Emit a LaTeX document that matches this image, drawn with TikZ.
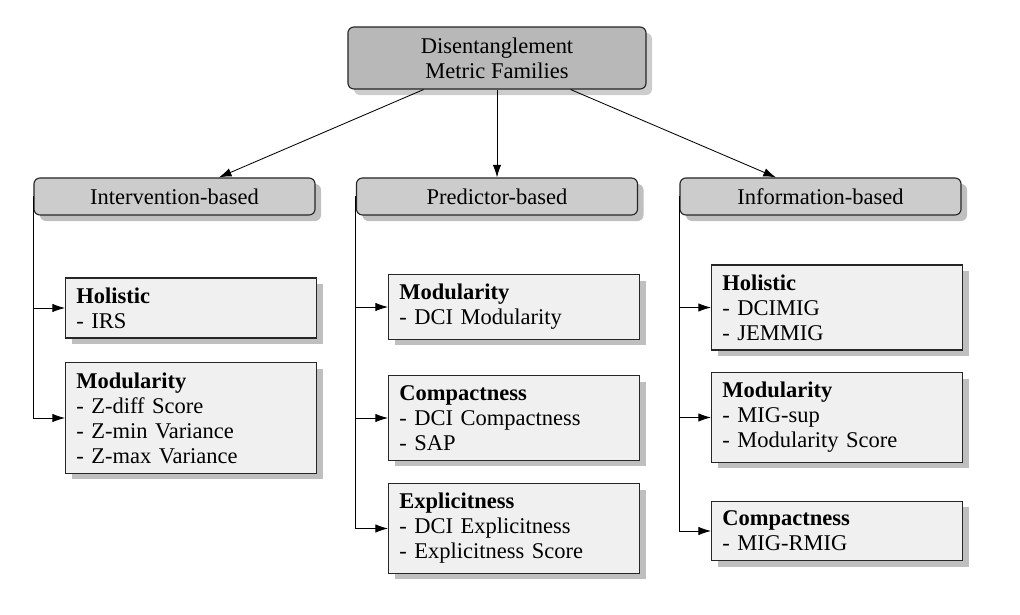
\documentclass[tikz,border=0pt]{standalone}
\usepackage{fontspec}
\setmainfont{Liberation Serif}
\usetikzlibrary{arrows.meta,shadows}

\tikzset{
    rootbox/.style={draw=black!85, thick, fill=black!28, rounded corners=0.15cm,
        minimum width=7.45cm, minimum height=1.55cm, align=center,
        drop shadow={shadow xshift=0.15cm, shadow yshift=-0.15cm, opacity=1, fill=black!20}},
    catbox/.style={draw=black!85, thick, fill=black!20, rounded corners=0.15cm,
        minimum width=7.025cm, minimum height=0.925cm,
        drop shadow={shadow xshift=0.15cm, shadow yshift=-0.15cm, opacity=1, fill=black!25}},
    leafbox/.style={draw=black!85, thick, fill=black!6, anchor=west, align=left,
        text width=5.735cm, inner xsep=0.27cm, inner ysep=0.24cm,
        drop shadow={shadow xshift=0.15cm, shadow yshift=-0.15cm, opacity=1, fill=black!25}},
    link/.style={semithick, -{Latex[length=9pt,width=6pt]}}
}

\begin{document}
\begin{tikzpicture}[x=0.025cm, y=-0.025cm, font=\fontsize{16}{17.8}\selectfont]
    \useasboundingbox (0,0) rectangle (1020,615);

    % Root and the three families
    \node [rootbox] (root) at (497,58) {Disentanglement\\Metric Families};
    \node [catbox] (intv) at (174.5,196.5) {Intervention-based};
    \node [catbox] (pred) at (497,196.5) {Predictor-based};
    \node [catbox] (info) at (820.5,196.5) {Information-based};

    \draw [link] (root) -- (intv);
    \draw [link] (root) -- (pred);
    \draw [link] (root) -- (info);

    % Intervention-based metrics
    \node [leafbox] (intvA) at (65,308) {\textbf{Holistic}\\- IRS};
    \node [leafbox] (intvB) at (65,418) {\textbf{Modularity}\\- Z-diff Score\\- Z-min Variance\\- Z-max Variance};

    % Predictor-based metrics
    \node [leafbox] (predA) at (388,307) {\textbf{Modularity}\\- DCI Modularity};
    \node [leafbox] (predB) at (388,418) {\textbf{Compactness}\\- DCI Compactness\\- SAP};
    \node [leafbox] (predC) at (388,528.5) {\textbf{Explicitness}\\- DCI Explicitness\\- Explicitness Score};

    % Information-based metrics
    \node [leafbox] (infoA) at (711,307.5) {\textbf{Holistic}\\- DCIMIG\\- JEMMIG};
    \node [leafbox] (infoB) at (711,417.5) {\textbf{Modularity}\\- MIG-sup\\- Modularity Score};
    \node [leafbox] (infoC) at (711,531) {\textbf{Compactness}\\- MIG-RMIG};

    % Branches from each family
    \foreach \cat/\leaf in {intv/intvA, intv/intvB, pred/predA, pred/predB, pred/predC,
                            info/infoA, info/infoB, info/infoC} {
        \draw [link] (\cat.west) |- (\leaf.west);
    }
\end{tikzpicture}
\end{document}
